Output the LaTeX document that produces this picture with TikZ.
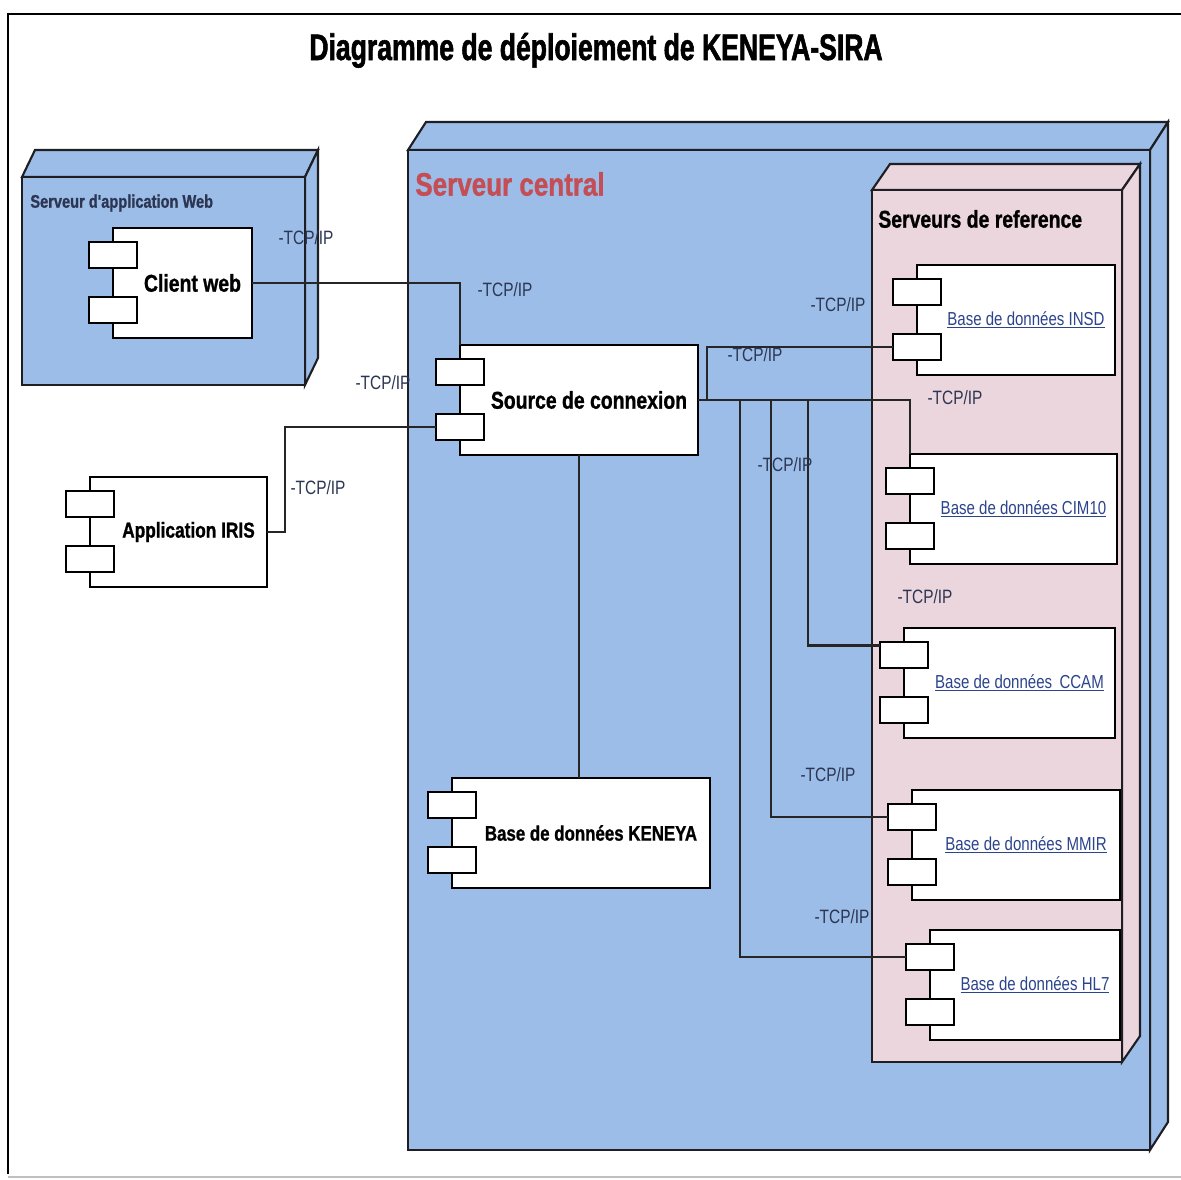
\documentclass[tikz,border=0pt]{standalone}
\usepackage{fontspec}
\setmainfont{Liberation Sans}
\newfontfamily\narrow[FakeStretch=0.8, BoldFeatures={FakeBold=1}]{Liberation Sans}
\newfontfamily\titlefont[FakeStretch=0.72, BoldFeatures={FakeBold=1.5}]{Liberation Sans}

\definecolor{nodeblue}{RGB}{155,189,232}
\definecolor{nodepink}{RGB}{236,214,222}
\definecolor{centralred}{RGB}{196,78,84}
\definecolor{protocol}{RGB}{44,54,82}
\definecolor{linkblue}{RGB}{44,68,140}
\definecolor{boxedge}{RGB}{30,30,35}

\tikzset{
  boxline/.style={draw=boxedge, line width=1.2pt, line join=miter},
  compbody/.style={draw=black, fill=white, line width=1.2pt, inner sep=0pt,
    outer sep=0pt, anchor=north west},
  comptab/.style={draw=black, fill=white, line width=1.2pt, inner sep=0pt,
    outer sep=0pt, anchor=north west, minimum width=0.96cm, minimum height=0.52cm},
  complabel/.style={font=\narrow\bfseries\fontsize{13.8}{15}\selectfont, inner sep=0pt},
  dblabel/.style={font=\narrow\fontsize{10.7}{12}\selectfont, text=linkblue, inner sep=0pt},
  link/.style={draw=black!85, line width=1.2pt},
  proto/.style={font=\narrow\fontsize{11}{12}\selectfont, text=protocol, inner sep=0pt},
}

% 3D deployment node: front face (x1,y1)-(x2,y2), depth (dx,dy), fill colour
\newcommand\deploybox[7]{%
  \filldraw[boxline, fill=#7] (#1,#2) -- ({#1+#5},{#2-#6}) -- ({#3+#5},{#2-#6}) -- (#3,#2) -- cycle;
  \filldraw[boxline, fill=#7] (#3,#2) -- ({#3+#5},{#2-#6}) -- ({#3+#5},{#4-#6}) -- (#3,#4) -- cycle;
  \filldraw[boxline, fill=#7] (#1,#2) rectangle (#3,#4);
}

% UML component: name, left, top, right, label style, label
\newcommand\component[6]{%
  \node[compbody, minimum width={(#4-#2)*0.02cm}, minimum height=2.2cm] (#1) at (#2,#3) {};
  \node[comptab] (#1-a) at ({#2-24},{#3+14}) {};
  \node[comptab] (#1-b) at ({#2-24},{#3+69}) {};
  \node[#5] (#1-t) at ({(#2+#4)/2+10},{#3+55}) {#6};
}

\begin{document}
\begin{tikzpicture}[x=0.02cm, y=-0.02cm]
\useasboundingbox[fill=white] (0,0) rectangle (1181,1180);

% page frame
\draw[line width=1.6pt] (1181,14) -- (8,14) -- (8,1174);
\draw[black!25, line width=1pt] (8,1177) -- (1181,1177);

% title
\node[font=\titlefont\bfseries\fontsize{21}{24}\selectfont, anchor=base] (title)
  at (596,60) {Diagramme de déploiement de KENEYA-SIRA};

% deployment nodes
\deploybox{22}{177}{305}{385}{13}{27}{nodeblue}
\deploybox{408}{150}{1150}{1150}{18}{28}{nodeblue}
\deploybox{872}{190}{1122}{1062}{18}{26}{nodepink}

\node[anchor=west, font=\narrow\bfseries\fontsize{10.4}{12}\selectfont, text=protocol, inner sep=0pt]
  (web-name) at (30,203) {Serveur d'application Web};
\node[anchor=west, font=\narrow\bfseries\fontsize{18.5}{20}\selectfont, text=centralred, inner sep=0pt]
  (central-name) at (415,184) {Serveur central};
\node[anchor=west, font=\narrow\bfseries\fontsize{13.8}{15}\selectfont, inner sep=0pt]
  (ref-name) at (878,219) {Serveurs de reference};

% components
\component{cw}{113}{228}{252}{complabel}{Client web}
\component{iris}{90}{477}{267}{complabel, font=\narrow\bfseries\fontsize{12.3}{14}\selectfont}{Application IRIS}
\component{src}{460}{345}{698}{complabel}{Source de connexion}
\component{ken}{452}{778}{710}{complabel, font=\narrow\bfseries\fontsize{12}{14}\selectfont}{Base de données KENEYA}
\component{insd}{917}{265}{1115}{dblabel}{\underline{Base de données INSD}}
\component{cim}{910}{454}{1117}{dblabel}{\underline{Base de données CIM10}}
\component{ccam}{904}{628}{1115}{dblabel}{\underline{Base de données\, CCAM}}
\component{mmir}{912}{790}{1120}{dblabel}{\underline{Base de données MMIR}}
\component{hl7}{930}{930}{1120}{dblabel}{\underline{Base de données HL7}}

% connections
\draw[link] (cw.east) -| (src.north west);
\draw[link] (iris.east) -- ++(18,0) |- (src-b.west);
\draw[link] (src.east) -- ++(9,0) |- (insd-b.west);
\draw[link] (src.east) -| (cim.north west);
\draw[link] (src.east) -- ++(110,0) |- ([yshift=-2pt]ccam-a.north west);
\draw[link] (src.east) -- ++(73,0) |- (mmir-a.west);
\draw[link] (src.east) -- ++(42,0) |- (hl7-a.west);
\draw[link] (src.south) -- (src.south |- ken.north);

% protocol labels
\node[proto] (p1) at (306,238) {-TCP/IP};
\node[proto] (p2) at (505,290) {-TCP/IP};
\node[proto] (p3) at (383,383) {-TCP/IP};
\node[proto] (p4) at (318,488) {-TCP/IP};
\node[proto] (p5) at (838,305) {-TCP/IP};
\node[proto] (p6) at (755,355) {-TCP/IP};
\node[proto] (p7) at (955,398) {-TCP/IP};
\node[proto] (p8) at (785,465) {-TCP/IP};
\node[proto] (p9) at (925,597) {-TCP/IP};
\node[proto] (p10) at (828,775) {-TCP/IP};
\node[proto] (p11) at (842,917) {-TCP/IP};
\end{tikzpicture}
\end{document}
